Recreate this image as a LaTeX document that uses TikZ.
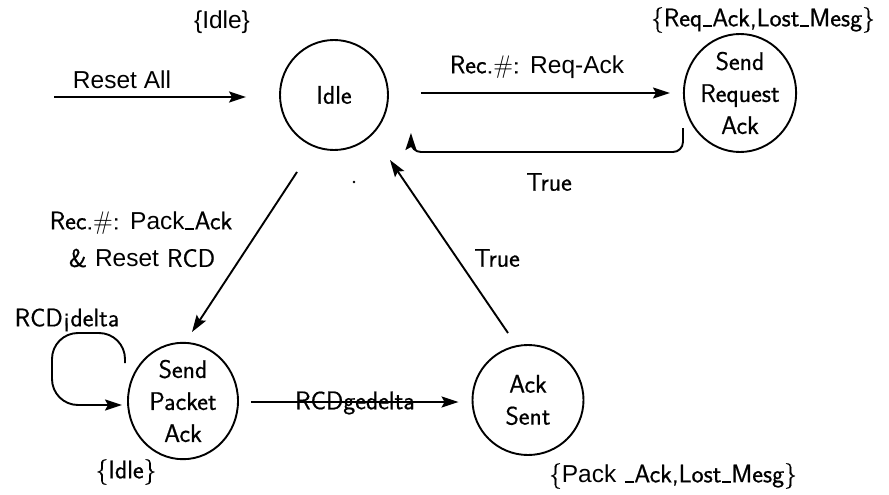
\documentclass[tikz,border=0pt]{standalone}
\usepackage{fontspec}
\setsansfont{Latin Modern Sans}[FakeBold=0.6]
\newfontfamily\helv{Liberation Sans}
\newfontface\cmssh{Latin Modern Sans}[FakeBold=0.6]
\usetikzlibrary{arrows.meta,shapes.geometric}
% short low dash used in the message names
\newcommand\lowbar{\kern0.5pt\rule[-0.5pt]{9pt}{1.4pt}\kern0.5pt}
\newcommand\hv{\helv\fontsize{24.5}{30}\selectfont}

\begin{document}
\begin{tikzpicture}[x=1pt,y=-1pt,
  state/.style={draw, line width=1.9pt, ellipse, inner sep=0pt, align=center,
    font=\cmssh\fontsize{25.5}{32}\selectfont},
  lbl/.style={inner sep=0pt, align=center, font=\cmssh\fontsize{25.5}{34}\selectfont},
  hlbl/.style={inner sep=0pt, font=\hv},
  trans/.style={line width=1.9pt, -{Stealth[length=17pt,width=11pt,inset=3pt]}},
]
\useasboundingbox (0,0) rectangle (889,495);

% states
\node[state, minimum width=108pt, minimum height=110pt] (idle) at (334,95) {Idle};
\node[state, minimum width=110pt, minimum height=118pt] (sra) at (740,93) {Send\\Request\\Ack};
\node[state, minimum width=110pt, minimum height=108pt] (spa) at (183,401) {Send\\Packet\\Ack};
\node[state, minimum width=111pt, minimum height=110pt] (ack) at (528,400) {Ack\\Sent};

% free ends
\coordinate (resetstart) at (54,97);
\coordinate (retend) at ([xshift=22pt,yshift=-38pt]idle.east);
\coordinate (loopstart) at ([shift={(-58,-38)}]spa.center);
\coordinate (loopend) at ([shift={(-61,4)}]spa.center);

% transitions
\draw[trans, shorten >=33pt] (resetstart) -- (resetstart -| idle.west);
\draw[trans, shorten <=32pt, shorten >=13pt] ([yshift=2pt]idle.east) -- (sra.west);
\draw[trans, rounded corners=10pt] ([yshift=-35pt]sra.west) |- (retend |- 0,152) -- (retend);
\draw[trans] ([shift={(-37,77)}]idle.center) -- ([shift={(9,-69)}]spa.center);
\draw[trans] ([shift={(-20,-67)}]ack.center) -- ([shift={(56,65)}]idle.center);
\draw[trans, shorten <=12pt, shorten >=13pt] ([yshift=-1pt]spa.east) -- ([yshift=-1pt]spa.east -| ack.west);
\draw[trans, rounded corners=26pt] (loopstart) -- (loopstart |- 0,333) -- (52,333) -- (52,405) -- (loopend);

% stray dot
\fill (354,182) circle (1.4pt);

% labels
\node[hlbl] (lreset) at (122,80) {Reset All};
\node[hlbl] (lidletop) at (222,22) {\{Idle\}};
\node[lbl] (lreq) at (537,67) {Rec.$\#$: {\hv Req-Ack}};
\node[lbl] (lreqset) at (763,20) {\{Req\lowbar Ack,Lost\lowbar Mesg\}};
\node[lbl] (ltrueret) at (549,182) {True};
\node[lbl] (lpack) at (141,223) {Rec.$\#$: {\hv Pack}\lowbar Ack};
\node[lbl] (lrcd) at (142,258) {\& {\hv Reset} RCD};
\node[lbl] (ltrueup) at (497,258) {True};
\node[lbl] (lloop) at (67,320) {RCD¡delta};
\node[lbl] (lge) at (355,403) {RCDgedelta};
\node[lbl] (lidlebot) at (126,472) {\{Idle\}};
\node[lbl] (lpackset) at (673,476) {\{{\hv Pack} \lowbar Ack,Lost\lowbar Mesg\}};
\end{tikzpicture}
\end{document}
